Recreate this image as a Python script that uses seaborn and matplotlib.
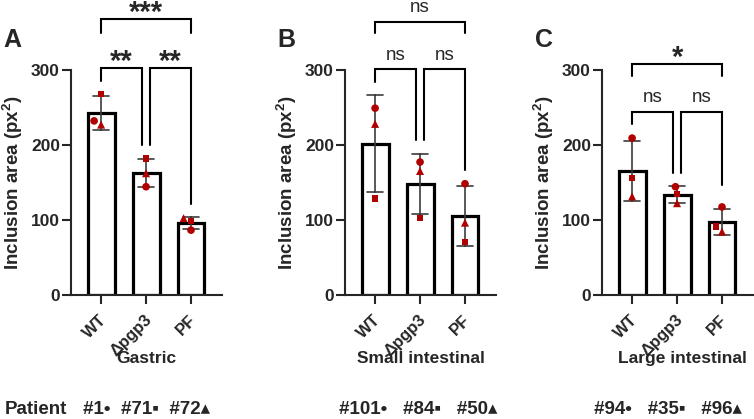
import numpy as np
import pandas as pd
import matplotlib
matplotlib.use("Agg")
import matplotlib.pyplot as plt
import seaborn as sns
from matplotlib.markers import MarkerStyle
from matplotlib.transforms import Affine2D, ScaledTranslation

# data (values per group, patient order: circle, square, triangle)
groups = ["WT", "Δpgp3", "PF"]
tissues = ["Gastric", "Small intestinal", "Large intestinal"]
letters = ["A", "B", "C"]
patients = [["#1", "#71", "#72"], ["#101", "#84", "#50"], ["#94", "#35", "#96"]]

gastric = [[232, 268, 227], [144, 182, 162], [86, 98, 102]]
small_int = [[249, 128, 228], [177, 102, 165], [148, 70, 96]]
large_int = [[209, 156, 131], [144, 134, 122], [117, 91, 84]]
all_vals = [gastric, small_int, large_int]

sig = [["**", "**", "***"], ["ns", "ns", "ns"], ["ns", "ns", "*"]]

# bracket layout: (x1, x2, bar height, left drop, right drop) per comparison
brackets = [
    [(0, 0.91, 303, 285, 200), (1.09, 2, 303, 200, 121), (0, 2, 368, 350, 350)],
    [(0, 0.91, 301, 284, 206), (1.09, 2, 301, 206, 166), (0, 2, 364, 350, 350)],
    [(0, 0.91, 244, 228, 162), (1.09, 2, 244, 162, 146), (0, 2, 308, 292, 292)],
]

red = "#b00000"

sns.set_style("ticks")
plt.rcParams["font.family"] = ["Liberation Sans", "DejaVu Sans"]
plt.rcParams["mathtext.fontset"] = "custom"
plt.rcParams["mathtext.bf"] = "Liberation Sans:bold"
plt.rcParams["mathtext.rm"] = "Liberation Sans:bold"


def marker_path(m, scale=1.0):
    ms = MarkerStyle(m)
    return ms.get_path().transformed(ms.get_transform() + Affine2D().scale(scale))


paths = [marker_path("o"), marker_path("s", 0.85), marker_path("^", 1.05)]

fig = plt.figure(figsize=(7.54, 4.19), dpi=100)
lefts = [71, 345, 602]
label_x = [0.5, 0.5, 0.53]
row_x = [146.5, 418, 668]
row_gap = ["  ", "   ", "   "]
shift = ScaledTranslation(3 / 100, 0, fig.dpi_scale_trans)

for k in range(3):
    ax = fig.add_axes([lefts[k] / 754, 124.5 / 419, 151 / 754, 224.5 / 419])
    rows = []
    for g, v in zip(groups, all_vals[k]):
        for p, y in enumerate(v):
            rows.append({"group": g, "patient": p, "area": y})
    df = pd.DataFrame(rows)

    sns.barplot(data=df, x="group", y="area", order=groups, errorbar="sd",
                capsize=0.35, width=0.6, color="white", saturation=1,
                edgecolor="black", linewidth=2.3,
                err_kws={"color": "#3c3c3c", "linewidth": 1.2}, ax=ax)
    sns.swarmplot(data=df, x="group", y="area", order=groups, color=red,
                  size=5.5, linewidth=0, zorder=3, ax=ax)
    for coll in ax.collections:
        coll.set_paths(paths)

    ax.set_xlim(-0.67, 2.69)
    ax.set_ylim(0, 300)
    ax.set_yticks([0, 100, 200, 300])
    sns.despine(ax=ax)
    for s in ["left", "bottom"]:
        ax.spines[s].set_linewidth(1.5)
    ax.tick_params(axis="both", length=6.5, width=1.5, labelsize=12.5, pad=1.5)
    plt.setp(ax.get_yticklabels(), fontweight="bold")
    ax.set_xticks(range(3))
    ax.set_xticklabels(groups, rotation=45, ha="right", va="center",
                       rotation_mode="anchor", fontweight="bold", fontsize=12)
    ax.tick_params(axis="x", pad=10)
    for lbl in ax.get_xticklabels():
        lbl.set_transform(lbl.get_transform() + shift)

    ax.set_ylabel(r"Inclusion area (px$^{\mathbf{2}}$)", fontsize=13.5,
                  fontweight="bold")
    ax.yaxis.set_label_coords(-58 / 151, 0.5)
    ax.yaxis.label.set_verticalalignment("center")
    ax.set_xlabel(tissues[k], fontsize=12.5, fontweight="bold")
    ax.xaxis.set_label_coords(label_x[k], -0.286)
    ax.xaxis.label.set_verticalalignment("center")

    ax.text(-0.445, 1.134, letters[k], transform=ax.transAxes, fontsize=18,
            fontweight="bold", ha="left", va="center")

    for (x1, x2, yb, d1, d2), lab in zip(brackets[k], sig[k]):
        ax.plot([x1, x1, x2, x2], [d1, yb, yb, d2], color="black", lw=1.5,
                clip_on=False, solid_joinstyle="miter")
        xm = (x1 + x2) / 2
        if lab == "ns":
            ax.text(xm, yb + 13, lab, ha="center", va="baseline", fontsize=13.5,
                    clip_on=False)
        else:
            ax.text(xm, yb - 3, lab, ha="center", va="baseline", fontsize=21,
                    fontweight="bold", clip_on=False)

    gap = row_gap[k]
    row = "{}•{}{}▪{}{}▴".format(patients[k][0], gap, patients[k][1], gap,
                                 patients[k][2])
    fig.text(row_x[k] / 754, 1 - 409 / 419, row, ha="center", va="center",
             fontsize=13.5, fontweight="bold")

fig.text(5 / 754, 1 - 409 / 419, "Patient", ha="left", va="center",
         fontsize=13.5, fontweight="bold")

fig.savefig("out.png", dpi=100)
